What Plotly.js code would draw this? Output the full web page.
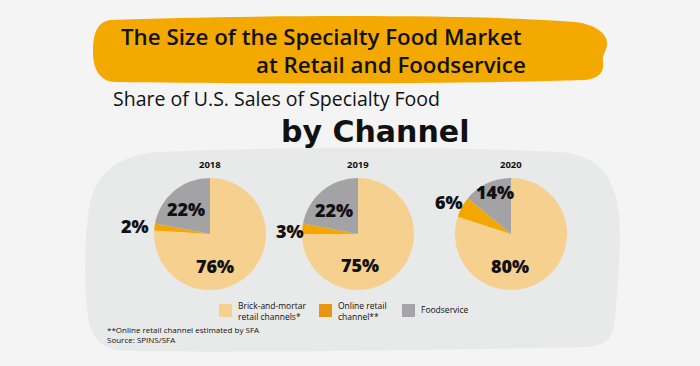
<!DOCTYPE html>
<html>
<head>
<meta charset="utf-8">
<script src="https://cdn.plot.ly/plotly-3.0.1.min.js"></script>
<style>html,body{margin:0;padding:0;background:#F4F4F4;}#chart{width:700px;height:366px;}</style>
</head>
<body>
<div id="chart"></div>
<script>
// ---- data ----
const years = ['2018', '2019', '2020'];
const channels = ['Brick-and-mortar retail channels*', 'Online retail channel**', 'Foodservice'];
const brickAndMortar = [76, 75, 80];
const onlineRetail = [2, 3, 6];
const foodservice = [22, 22, 14];
const legendLines = [['Brick-and-mortar', 'retail channels*'], ['Online retail', 'channel**'], ['Foodservice']];
const titleLines = ['The Size of the Specialty Food Market', 'at Retail and Foodservice'];
const subtitleLines = ['Share of U.S. Sales of Specialty Food', 'by Channel'];
const footnotes = ['**Online retail channel estimated by SFA', 'Source: SPINS/SFA'];

// ---- styling / layout ----
const W = 700, H = 366;
const X = px => px / W;
const Y = py => 1 - py / H;
const sliceColors = ['#F5D08F', '#F4A700', '#A3A3A5'];
const legendColors = ['#F5D08F', '#E8960F', '#A5A5A7'];
const pieCenters = [[210, 234], [358, 234], [511, 234]];
const pieR = 56;
const labelPos = [
  [[215, 266], [135, 226], [186, 209]],
  [[360, 265], [290, 231], [334, 210]],
  [[510, 266], [449, 202], [495, 192]]
];

function pathFrom(cmds) {
  return cmds.map(c => {
    const op = c[0];
    const nums = c.slice(1);
    const out = [];
    for (let i = 0; i < nums.length; i += 2) out.push(X(nums[i]).toFixed(5) + ',' + Y(nums[i + 1]).toFixed(5));
    return op + ' ' + out.join(' ');
  }).join(' ') + ' Z';
}

const bannerPath = pathFrom([
  ['M', 110, 20],
  ['C', 250, 15, 480, 14, 575, 22],
  ['C', 598, 25, 608, 35, 607, 45],
  ['C', 606, 52, 602, 55, 603, 62],
  ['C', 604, 72, 600, 78, 585, 80],
  ['C', 450, 84, 250, 84, 115, 82],
  ['C', 100, 81, 93, 70, 93, 52],
  ['C', 93, 32, 98, 22, 110, 20]
]);
const blobPath = pathFrom([
  ['M', 160, 152],
  ['C', 300, 146, 450, 147, 560, 152],
  ['C', 600, 155, 620, 180, 620, 230],
  ['C', 620, 270, 616, 300, 615, 320],
  ['C', 613, 340, 605, 346, 585, 347],
  ['C', 450, 350, 250, 353, 125, 351],
  ['C', 100, 350, 90, 335, 88, 315],
  ['C', 84, 290, 84, 250, 88, 215],
  ['C', 92, 180, 110, 155, 160, 152]
]);

const traces = years.map((yr, i) => ({
  type: 'pie',
  values: [brickAndMortar[i], onlineRetail[i], foodservice[i]],
  labels: channels,
  sort: false,
  direction: 'clockwise',
  rotation: 0,
  textinfo: 'none',
  hoverinfo: 'label+percent',
  showlegend: false,
  marker: { colors: sliceColors, line: { width: 0 } },
  domain: {
    x: [X(pieCenters[i][0] - pieR), X(pieCenters[i][0] + pieR)],
    y: [Y(pieCenters[i][1] + pieR), Y(pieCenters[i][1] - pieR)]
  }
}));

const ann = [];
const A = (text, x, y, size, weight, xanchor, extra, family) => ann.push(Object.assign({
  text: text, xref: 'paper', yref: 'paper', x: X(x), y: Y(y),
  xanchor: xanchor || 'center', yanchor: 'middle', showarrow: false, borderpad: 0,
  font: { family: family || 'Open Sans, sans-serif', size: size, color: '#111111', weight: weight }
}, extra || {}));

// titles
A(titleLines[0], 321, 36, 22.3, 600, 'center');
A(titleLines[1], 527, 65, 22.3, 600, 'right');
A(subtitleLines[0], 112, 98, 19.5, 400, 'left');
A(subtitleLines[1], 375, 132, 30, 700, 'center', {}, 'DejaVu Sans, sans-serif');

// years + slice labels
years.forEach((yr, i) => {
  A(yr, pieCenters[i][0], 165, 9.5, 700, 'center');
  const vals = [brickAndMortar[i], onlineRetail[i], foodservice[i]];
  vals.forEach((v, j) => A(v + '%', labelPos[i][j][0], labelPos[i][j][1], 18, 800, 'center'));
});

// legend
const legendX = [219, 319, 402];
const shapes = [
  { type: 'path', path: blobPath, xref: 'paper', yref: 'paper', fillcolor: '#E8E9E9', line: { width: 0 }, layer: 'below' },
  { type: 'path', path: bannerPath, xref: 'paper', yref: 'paper', fillcolor: '#F4A900', line: { width: 0 }, layer: 'below' }
];
legendLines.forEach((lines, k) => {
  shapes.push({ type: 'rect', xref: 'paper', yref: 'paper', x0: X(legendX[k]), x1: X(legendX[k] + 13), y0: Y(317), y1: Y(304),
    fillcolor: legendColors[k], line: { width: 0 } });
  A(lines.join('<br>'), legendX[k] + 18, lines.length === 2 ? 311 : 309, 8.5, 500, 'left', { align: 'left' });
});

// footnotes
A(footnotes.join('<br>'), 106, 334.5, 8, 500, 'left', { align: 'left' });

const layout = {
  width: W, height: H,
  margin: { l: 0, r: 0, t: 0, b: 0 },
  paper_bgcolor: '#F4F4F4',
  plot_bgcolor: '#F4F4F4',
  showlegend: false,
  shapes: shapes,
  annotations: ann
};

Plotly.newPlot('chart', traces, layout, { displayModeBar: false, staticPlot: true });
</script>
</body>
</html>
